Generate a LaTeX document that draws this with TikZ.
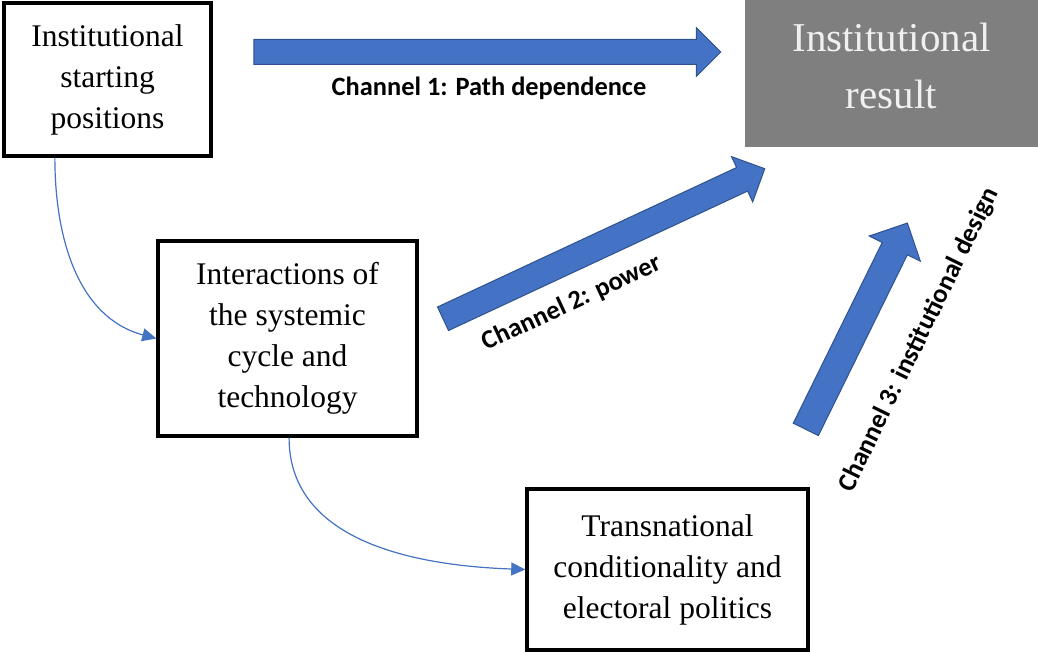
\documentclass[tikz,border=0pt]{standalone}
\usepackage{fontspec}
\setmainfont{Liberation Serif}
\newfontfamily\chanfont{Carlito}
\usetikzlibrary{arrows.meta,shapes.arrows,calc}
\definecolor{arrblue}{HTML}{4472C4}
\definecolor{arrdark}{HTML}{2F528F}
\definecolor{resgray}{HTML}{7F7F7F}

\begin{document}
\begin{tikzpicture}[x=1pt,y=1pt,
    box/.style={draw,line width=3.5pt,align=center,font=\fontsize{31.5}{41}\selectfont},
    channel/.style={single arrow,draw=arrdark,line width=1pt,fill=arrblue,inner sep=0pt,single arrow head extend=12pt},
    chanlabel/.style={font=\chanfont\bfseries\fontsize{26.4}{30}\selectfont},
    link/.style={arrblue,line width=1.2pt,-{Triangle[length=14pt,width=13pt]}}]
  \useasboundingbox (0,0) rectangle (1038,652);
  \node[box,minimum width=207,minimum height=153] (start) at (107.5,572.5) {Institutional\\starting\\positions};
  \node[box,minimum width=259,minimum height=195] (inter) at (287.5,313.5) {Interactions of\\the systemic\\cycle and\\technology};
  \node[box,minimum width=281,minimum height=161] (trans) at (667.5,82.5) {Transnational\\conditionality and\\electoral politics};
  \node[fill=resgray,text=white!94!black,align=center,minimum width=293,minimum height=147,
        text depth=16pt,font=\fontsize{41}{57}\selectfont] (result) at (891.5,578.5) {Institutional\\result};
  % the three channels
  \node[channel,minimum height=467,text height=12pt,text depth=12pt] (ch1) at (481,600) {};
  \node[channel,minimum height=355,text height=12.5pt,text depth=12.5pt,rotate=25] (ch2) at (598,405.5) {};
  \node[channel,minimum height=230,text height=13.5pt,text depth=13.5pt,single arrow head extend=14.5pt,rotate=63.8] (ch3) at (853.5,319.5) {};
  \node[chanlabel] (l1) at (489,564) {Channel 1: Path dependence};
  \node[chanlabel,rotate=25] (l2) at (572,349) {Channel 2: power};
  \node[chanlabel,rotate=64] (l3) at (919,312) {Channel 3: institutional design};
  \coordinate (s1) at ($(start.south west)!0.25!(start.south east)$);
  \coordinate (s2) at ($(inter.south west)!0.506!(inter.south east)$);
  \draw[link] (s1) to[out=-90,in=165] (inter.west);
  \draw[link] (s2) to[out=-90,in=178] (trans.west);
\end{tikzpicture}
\end{document}
